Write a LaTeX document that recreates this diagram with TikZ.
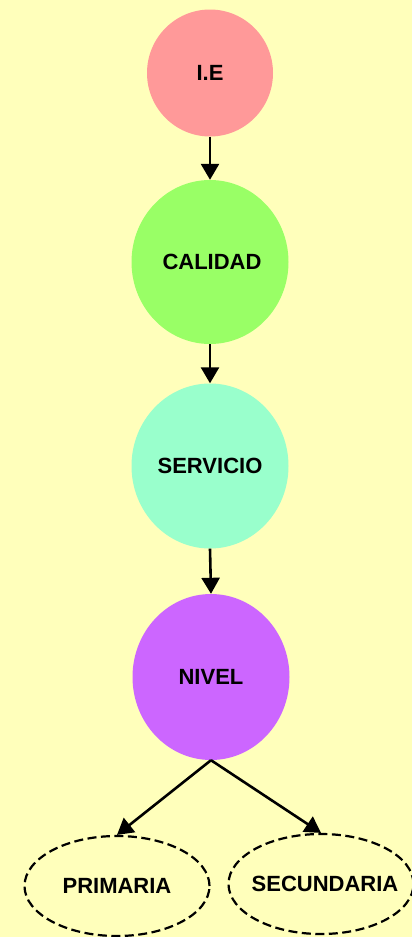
\documentclass[tikz,border=0pt]{standalone}
\usepackage{fontspec}
\setmainfont{Liberation Sans}
\usetikzlibrary{arrows.meta,shapes.geometric}
\definecolor{bg}{HTML}{FFFFBB}
\definecolor{cpink}{HTML}{FF9999}
\definecolor{cgreen}{HTML}{99FF66}
\definecolor{caqua}{HTML}{99FFCC}
\definecolor{cpurple}{HTML}{CC66FF}
\tikzset{
  circ/.style={ellipse, draw=none, inner sep=0pt, font=\bfseries\fontsize{22}{26}\selectfont},
  lvl/.style={ellipse, draw=black, dash pattern=on 9pt off 4.5pt, line width=2.2pt, inner sep=0pt, minimum width=185pt, minimum height=100pt, font=\bfseries\fontsize{22}{26}\selectfont},
  arr/.style={line width=2.6pt, -{Triangle[width=18pt,length=16pt]}}
}
\begin{document}
\begin{tikzpicture}[x=1pt,y=-1pt]
\fill[bg] (0,0) rectangle (412,937);
\useasboundingbox (0,0) rectangle (412,937);
\node[circ, fill=cpink, minimum width=126pt, minimum height=127pt] (ie) at (210,73) {I.E};
\node[circ, fill=cgreen, minimum width=157pt, minimum height=164pt] (cal) at (210,262) {\makebox[0pt]{\hspace{4pt}CALIDAD}};
\node[circ, fill=caqua, minimum width=157pt, minimum height=165pt] (ser) at (210,466) {SERVICIO};
\node[circ, fill=cpurple, minimum width=157pt, minimum height=166pt] (niv) at (211,677) {NIVEL};
\node[lvl] (pri) at (117,886) {\makebox[0pt]{PRIMARIA}};
\node[lvl] (sec) at (321,884) {\makebox[0pt]{\hspace{8pt}SECUNDARIA}};
\draw[arr] (ie.south) -- (cal.north);
\draw[arr] (cal.south) -- (ser.north);
\draw[arr] (ser.south) -- (niv.north);
\draw[arr] (niv.south) -- (pri.north);
\draw[arr] (niv.south) -- (sec.north);
\end{tikzpicture}
\end{document}
